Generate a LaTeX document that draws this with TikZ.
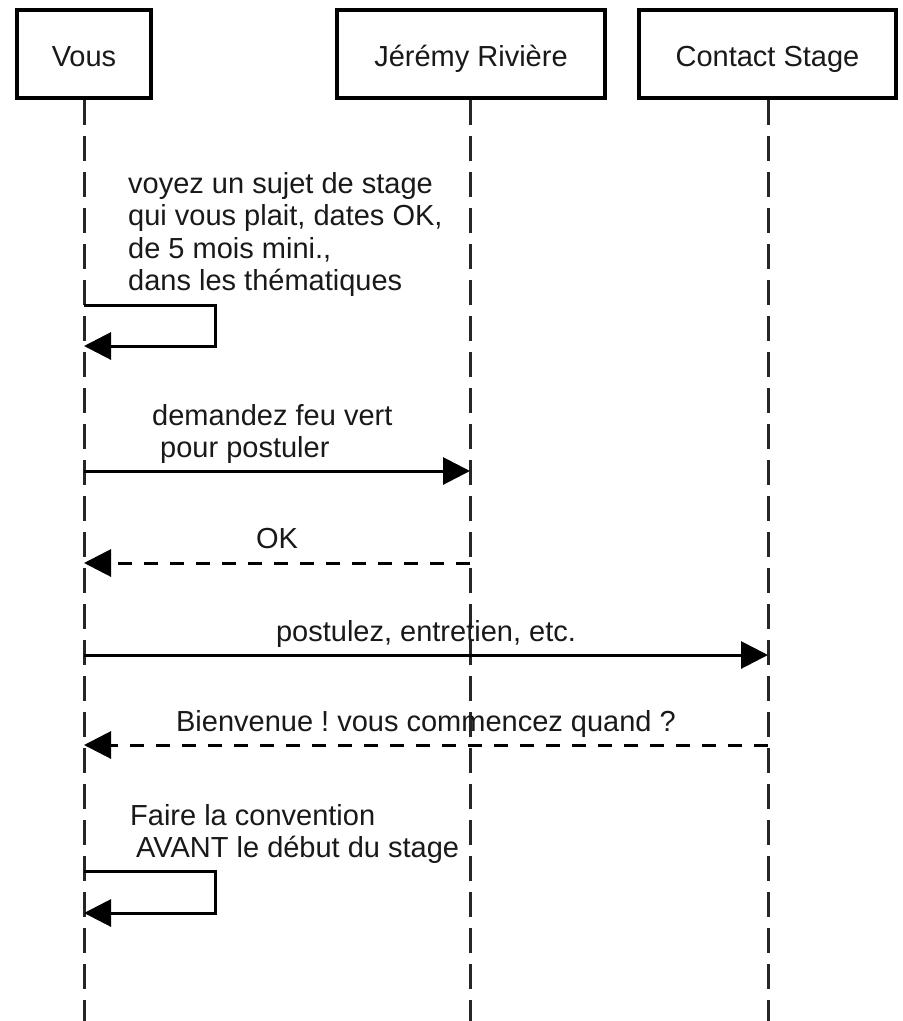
\documentclass[tikz,border=0pt]{standalone}
\usepackage{fontspec}
\setmainfont{Liberation Sans}
\usetikzlibrary{arrows.meta}
\frenchspacing
\begin{document}
\begin{tikzpicture}[x=1pt,y=-1pt,
  txt/.style={font=\fontsize{29}{32}\selectfont\frenchspacing, inner sep=0pt, text=black!90},
  lbl/.style={txt, anchor=base west},
  clbl/.style={txt, anchor=base},
  actor/.style={draw=black, line width=4.5pt, minimum width=#1, minimum height=88pt,
    inner sep=0pt, text height=24pt, text depth=0pt, txt, fill=white},
  lifeline/.style={draw=black!85, line width=3pt, dash pattern=on 25pt off 11pt},
  msg/.style={draw=black, line width=3pt, line join=miter,
    -{Triangle[length=27pt,width=27pt]}},
  reply/.style={msg, dash pattern=on 14pt off 12pt}
]
\fill[white] (0,0) rectangle (903,1021);
\useasboundingbox (0,0) rectangle (903,1021);

% actors
\node[actor=134pt] (vous) at (84,54) {Vous};
\node[actor=268pt] (jr) at (471,54) {Jérémy Rivière};
\node[actor=257pt] (cs) at (767.5,54) {Contact Stage};

% lifeline ends
\coordinate (vousend) at (84,1021);
\coordinate (jrend) at (470,1021);
\coordinate (csend) at (768,1021);

\draw[lifeline] (vous.south) -- (vousend);
\draw[lifeline] (jr.south -| jrend) -- (jrend);
\draw[lifeline] (cs.south -| csend) -- (csend);

% message points
\coordinate (s1a) at (84,305);
\coordinate (s1c) at (215,305);
\coordinate (s1d) at (215,346);
\coordinate (s1b) at (84,346);
\coordinate (m2a) at (84,471);
\coordinate (m2b) at (470,471);
\coordinate (m3a) at (470,563);
\coordinate (m3b) at (84,563);
\coordinate (m4a) at (84,655);
\coordinate (m4b) at (768,655);
\coordinate (m5a) at (768,745);
\coordinate (m5b) at (84,745);
\coordinate (s6a) at (84,871);
\coordinate (s6c) at (215,871);
\coordinate (s6d) at (215,913);
\coordinate (s6b) at (84,913);

% messages
\draw[msg] (s1a) -- (s1c) -- (s1d) -- (s1b);
\draw[msg] (m2a) -- (m2b);
\draw[reply] (m3a) -- (m3b);
\draw[msg] (m4a) -- (m4b);
\draw[reply] (m5a) -- (m5b);
\draw[msg] (s6a) -- (s6c) -- (s6d) -- (s6b);

% labels
\node[lbl] (t1a) at (128,193) {voyez un sujet de stage};
\node[lbl] (t1b) at (128,225.5) {qui vous plait, dates OK,};
\node[lbl] (t1c) at (128,258) {de 5 mois mini.,};
\node[lbl] (t1d) at (128,290) {dans les thématiques};
\node[lbl] (t2a) at (152,425) {demandez feu vert};
\node[lbl] (t2b) at (160,457) {pour postuler};
\node[clbl] (t3) at (277,548) {OK};
\node[clbl] (t4) at (426,641) {postulez, entretien, etc.};
\node[clbl] (t5) at (426,731) {Bienvenue ! vous commencez quand ?};
\node[lbl] (t6a) at (130,825) {Faire la convention};
\node[lbl] (t6b) at (136,857) {AVANT le début du stage};
\end{tikzpicture}
\end{document}
